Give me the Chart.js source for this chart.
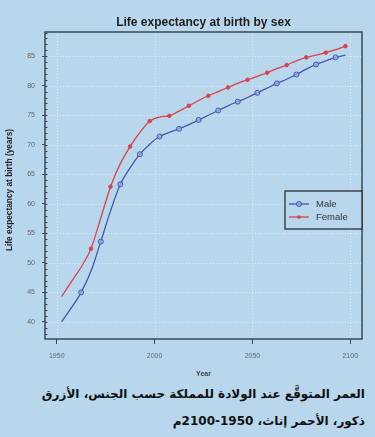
<!DOCTYPE html>
<html>
<head>
<meta charset="utf-8">
<script src="https://cdn.jsdelivr.net/npm/chart.js@4/dist/chart.umd.min.js"></script>
<style>
  html, body { margin: 0; padding: 0; background: #b9d7ec; width: 375px; height: 437px; overflow: hidden; }
  #wrap { position: absolute; left: 0; top: 0; width: 375px; height: 380px; }
  #cap { position: absolute; right: 10px; top: 381px; width: 370px; direction: rtl; text-align: right;
         font-family: "DejaVu Sans", "Noto Sans", sans-serif; font-weight: bold; font-size: 12px;
         line-height: 27px; color: #111; white-space: nowrap; }
</style>
</head>
<body>
<div id="wrap"><canvas id="c" width="375" height="380"></canvas></div>
<div id="cap">العمر المتوقَّع عند الولادة للمملكة حسب الجنس، الأزرق<br>ذكور، الأحمر إناث، 1950-2100م</div>
<script>
const years = [1952.5,1957.5,1962.5,1967.5,1972.5,1977.5,1982.5,1987.5,1992.5,1997.5,
               2002.5,2007.5,2012.5,2017.5,2022.5,2027.5,2032.5,2037.5,2042.5,2047.5,
               2052.5,2057.5,2062.5,2067.5,2072.5,2077.5,2082.5,2087.5,2092.5,2097.5];
const male = [40.0,42.4,45.0,48.6,53.6,58.8,63.3,66.1,68.4,70.1,
              71.4,72.1,72.7,73.4,74.2,75.0,75.8,76.6,77.3,78.0,
              78.8,79.6,80.4,81.1,81.9,82.8,83.6,84.2,84.8,85.2];
const female = [44.3,46.8,49.3,52.4,57.6,62.9,66.8,69.7,72.1,74.0,
                74.7,74.9,75.7,76.6,77.5,78.3,79.0,79.7,80.4,81.0,
                81.6,82.2,82.9,83.5,84.2,84.8,85.2,85.6,86.1,86.7];
const xTicks = [1950, 2000, 2050, 2100];
const yTicks = [40, 45, 50, 55, 60, 65, 70, 75, 80, 85];
const seriesNames = ["Male", "Female"];
const chartTitle = "Life expectancy at birth by sex";
const xTitle = "Year";
const yTitle = "Life expectancy at birth (years)";

const blue = '#4257ad', red = '#d8434c', frame = '#3b4852';
const maleR = male.map((v,i) => (i >= 2 && i % 2 === 0) ? 2.5 : 0);
const femaleR = female.map((v,i) => (i >= 3 && i % 2 === 1) ? 1.8 : 0);

const decor = {
  id: 'decor',
  beforeDatasetsDraw(chart) {
    const {ctx, chartArea: a, scales: {x, y}} = chart;
    ctx.save();
    ctx.strokeStyle = 'rgba(225,238,248,0.9)';
    ctx.lineWidth = 1;
    ctx.setLineDash([1, 2]);
    yTicks.forEach(v => { const py = Math.round(y.getPixelForValue(v)) + 0.5;
      ctx.beginPath(); ctx.moveTo(a.left, py); ctx.lineTo(a.right, py); ctx.stroke(); });
    xTicks.forEach(v => { const px = Math.round(x.getPixelForValue(v)) + 0.5;
      ctx.beginPath(); ctx.moveTo(px, a.top); ctx.lineTo(px, a.bottom); ctx.stroke(); });
    ctx.setLineDash([]);
    ctx.strokeStyle = frame;
    for (let v = 38; v <= 89; v++) {
      const py = Math.round(y.getPixelForValue(v)) + 0.5;
      ctx.beginPath(); ctx.moveTo(a.left, py); ctx.lineTo(a.left + 2.5, py); ctx.stroke();
    }
    ctx.restore();
  },
  afterDraw(chart) {
    const {ctx, chartArea: a} = chart;
    ctx.save();
    ctx.strokeStyle = frame; ctx.lineWidth = 1.5;
    ctx.strokeRect(a.left, a.top, a.right - a.left, a.bottom - a.top);
    ctx.fillStyle = '#1e1e1e';
    ctx.font = 'bold 12px "Liberation Sans", Arial, sans-serif';
    ctx.textAlign = 'center'; ctx.textBaseline = 'middle';
    ctx.fillText(chartTitle, (a.left + a.right) / 2, 23);
    ctx.fillStyle = '#444';
    ctx.font = 'bold 7px "Liberation Sans", Arial, sans-serif';
    ctx.fillText(xTitle, (a.left + a.right) / 2, 374);
    ctx.save();
    ctx.translate(10, 190); ctx.rotate(-Math.PI / 2);
    ctx.fillStyle = '#222';
    ctx.font = 'bold 8.3px "Liberation Sans", Arial, sans-serif';
    ctx.fillText(yTitle, 0, 0);
    ctx.restore();
    const lx = 285, ly = 191, lw = a.right - lx, lh = 38;
    ctx.fillStyle = '#b9d7ec';
    ctx.fillRect(lx, ly, lw, lh);
    ctx.strokeStyle = '#222'; ctx.lineWidth = 1.2;
    ctx.strokeRect(lx, ly, lw, lh);
    const items = [[seriesNames[0], blue, 2.5, 'm'], [seriesNames[1], red, 1.8, 'f']];
    items.forEach((it, i) => {
      const yy = ly + 13 + i * 13;
      ctx.strokeStyle = it[1]; ctx.lineWidth = 1.3;
      ctx.beginPath(); ctx.moveTo(lx + 4, yy); ctx.lineTo(lx + 24, yy); ctx.stroke();
      ctx.beginPath(); ctx.arc(lx + 14, yy, it[2], 0, Math.PI * 2);
      if (it[3] === 'm') { ctx.fillStyle = 'rgba(150,170,225,0.8)'; ctx.fill(); ctx.lineWidth = 1; ctx.stroke(); }
      else { ctx.fillStyle = it[1]; ctx.fill(); }
      ctx.fillStyle = '#333';
      ctx.font = '9.5px "Liberation Sans", Arial, sans-serif';
      ctx.textAlign = 'left'; ctx.textBaseline = 'middle';
      ctx.fillText(it[0], lx + 31, yy + 0.5);
    });
    ctx.restore();
  }
};

new Chart(document.getElementById('c'), {
  type: 'line',
  data: {
    datasets: [
      { label: seriesNames[0], data: years.map((t,i) => ({x: t, y: male[i]})),
        borderColor: blue, borderWidth: 1.3, backgroundColor: 'rgba(150,170,225,0.8)',
        pointRadius: maleR, pointBorderColor: blue, pointBorderWidth: 1,
        cubicInterpolationMode: 'monotone' },
      { label: seriesNames[1], data: years.map((t,i) => ({x: t, y: female[i]})),
        borderColor: red, borderWidth: 1.3, backgroundColor: red,
        pointRadius: femaleR, pointBorderColor: red, pointBorderWidth: 1,
        cubicInterpolationMode: 'monotone' }
    ]
  },
  options: {
    responsive: false, animation: false, devicePixelRatio: 1,
    layout: { padding: { top: 32, right: 13, left: 0, bottom: 0 } },
    plugins: { legend: { display: false }, title: { display: false }, tooltip: { enabled: false } },
    scales: {
      x: { type: 'linear', min: 1944, max: 2106,
           afterBuildTicks: s => { s.ticks = xTicks.map(v => ({value: v})); },
           afterFit: s => { s.height = 41; },
           grid: { drawOnChartArea: false, drawTicks: true, tickLength: 5, tickColor: frame },
           border: { display: false },
           ticks: { color: '#666', font: { size: 7, family: '"Liberation Sans", Arial' }, padding: 8, maxRotation: 0,
                    callback: v => String(v) } },
      y: { min: 37.1, max: 89.1,
           afterBuildTicks: s => { s.ticks = yTicks.map(v => ({value: v})); },
           afterFit: s => { s.width = 45; },
           grid: { drawOnChartArea: false, drawTicks: true, tickLength: 3, tickColor: frame },
           border: { display: false },
           ticks: { color: '#666', font: { size: 7, family: '"Liberation Sans", Arial' }, padding: 7,
                    callback: v => String(v) } }
    }
  },
  plugins: [decor]
});
</script>
</body>
</html>
